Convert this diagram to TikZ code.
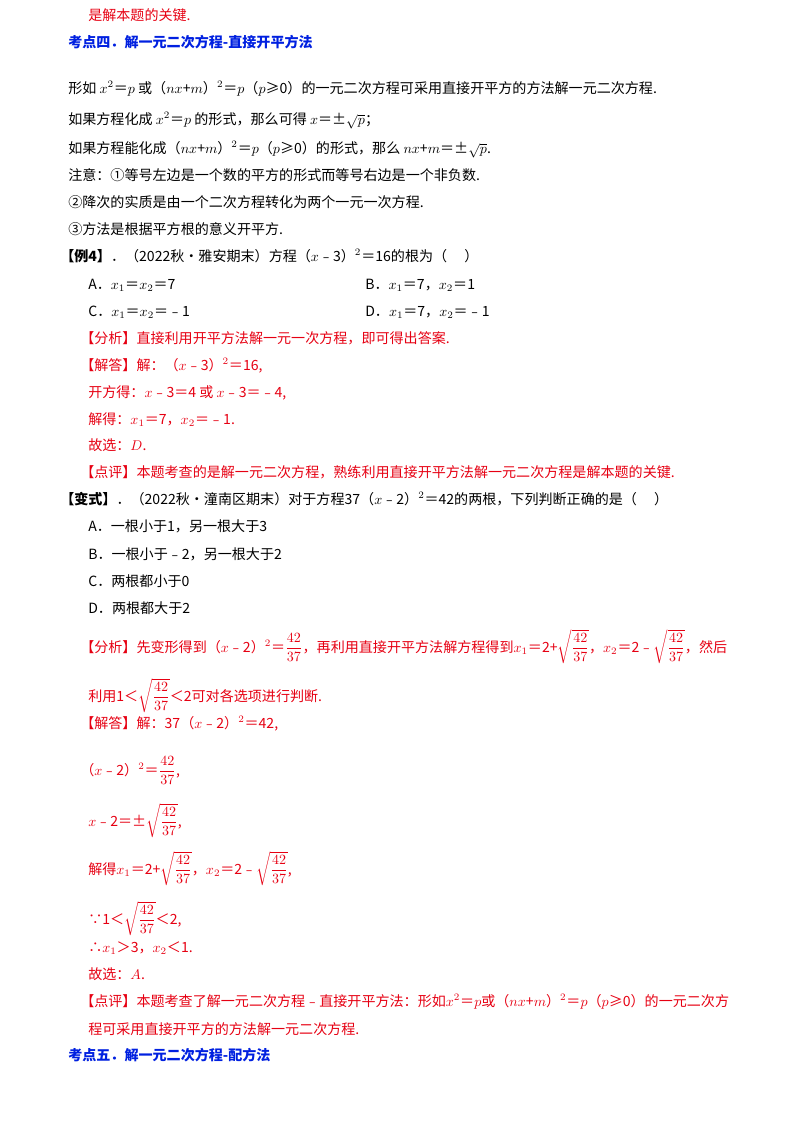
\documentclass[tikz,border=0pt]{standalone}
\usepackage{amsmath}
\usepackage{fontspec}
\setmainfont{Noto Sans CJK SC}
\definecolor{ansred}{RGB}{230,0,18}
\definecolor{headblue}{RGB}{0,32,224}
\tikzset{
  txt/.style={anchor=base west,inner sep=0pt,font=\fontsize{10}{12}\selectfont},
  ans/.style={txt,text=ansred},
  head/.style={txt,text=headblue,font=\fontsize{10}{12}\selectfont\bfseries}
}
\newcommand{\fr}{\dfrac{42}{37}}
\newcommand{\rt}{\sqrt{\dfrac{42}{37}}}
\begin{document}
\begin{tikzpicture}[x=0.025cm,y=-0.025cm]
        \useasboundingbox (0,0) rectangle (800,1132);
        \node[ans] (l1) at (88,20) {是解本题的关键.};
        \node[head] (l2) at (68,47) {考点四．解一元二次方程-直接开平方法};
        \node[txt] (l3) at (68,93) {形如 $x^2$＝$p$ 或（$nx$+$m$）$^2$＝$p$（$p$≥0）的一元二次方程可采用直接开平方的方法解一元二次方程.};
        \node[txt] (l4) at (68,124) {如果方程化成 $x^2$＝$p$ 的形式，那么可得 $x$＝±$\sqrt{p}$；};
        \node[txt] (l5) at (68,153) {如果方程能化成（$nx$+$m$）$^2$＝$p$（$p$≥0）的形式，那么 $nx$+$m$＝±$\sqrt{p}$.};
        \node[txt] (l6) at (68,180) {注意：①等号左边是一个数的平方的形式而等号右边是一个非负数.};
        \node[txt] (l7) at (68,207) {②降次的实质是由一个二次方程转化为两个一元一次方程.};
        \node[txt] (l8) at (68,234) {③方法是根据平方根的意义开平方.};
        \node[txt] (l9) at (60,261) {\textbf{【例4】}．（2022秋•雅安期末）方程（$x$﹣3）$^2$＝16的根为（\quad\ ）};
        \node[txt] (a1) at (88,289) {A．$x_1$＝$x_2$＝7};
        \node[txt] (b1) at (365,289) {B．$x_1$＝7，$x_2$＝1};
        \node[txt] (c1) at (88,316) {C．$x_1$＝$x_2$＝﹣1};
        \node[txt] (d1) at (365,316) {D．$x_1$＝7，$x_2$＝﹣1};
        \node[ans] (l10) at (80,343) {【分析】直接利用开平方法解一元一次方程，即可得出答案.};
        \node[ans] (l11) at (80,370) {【解答】解：（$x$﹣3）$^2$＝16,};
        \node[ans] (l12) at (88,397) {开方得：$x$﹣3＝4 或 $x$﹣3＝﹣4,};
        \node[ans] (l13) at (88,424) {解得：$x_1$＝7，$x_2$＝﹣1.};
        \node[ans] (l14) at (88,450) {故选：$D$.};
        \node[ans] (l15) at (80,477) {【点评】本题考查的是解一元二次方程，熟练利用直接开平方法解一元二次方程是解本题的关键.};
        \node[txt] (l16) at (60,504) {\textbf{【变式】}．（2022秋•潼南区期末）对于方程37（$x$﹣2）$^2$＝42的两根，下列判断正确的是（\quad\ ）};
        \node[txt] (a2) at (88,531) {A．一根小于1，另一根大于3};
        \node[txt] (b2) at (88,559) {B．一根小于﹣2，另一根大于2};
        \node[txt] (c2) at (88,586) {C．两根都小于0};
        \node[txt] (d2) at (88,613) {D．两根都大于2};
        \node[ans] (l17) at (80,652) {【分析】先变形得到（$x$﹣2）$^2$＝$\fr$，再利用直接开平方法解方程得到$x_1$＝2+$\rt$，$x_2$＝2﹣$\rt$，然后};
        \node[ans] (l18) at (88,701) {利用1＜$\rt$＜2可对各选项进行判断.};
        \node[ans] (l19) at (80,728) {【解答】解：37（$x$﹣2）$^2$＝42,};
        \node[ans] (l20) at (80,775) {（$x$﹣2）$^2$＝$\fr$,};
        \node[ans] (l21) at (88,826) {$x$﹣2＝±$\rt$,};
        \node[ans] (l22) at (88,874) {解得$x_1$＝2+$\rt$，$x_2$＝2﹣$\rt$,};
        \node[ans] (l23) at (88,924) {∵1＜$\rt$＜2,};
        \node[ans] (l24) at (88,952) {∴$x_1$＞3，$x_2$＜1.};
        \node[ans] (l25) at (88,979) {故选：$A$.};
        \node[ans] (l26) at (80,1006) {【点评】本题考查了解一元二次方程﹣直接开平方法：形如$x^2$＝$p$或（$nx$+$m$）$^2$＝$p$（$p$≥0）的一元二次方};
        \node[ans] (l27) at (88,1034) {程可采用直接开平方的方法解一元二次方程.};
        \node[head] (l28) at (68,1060) {考点五．解一元二次方程-配方法};
\end{tikzpicture}
\end{document}
